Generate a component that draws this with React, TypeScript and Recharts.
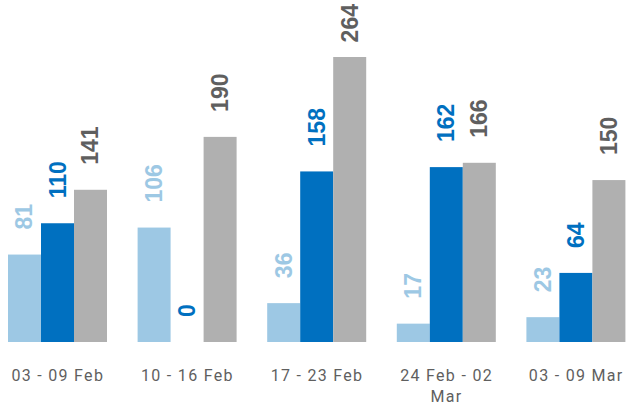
import { Bar, BarChart, XAxis, YAxis } from 'recharts';

const weeks = ['03 - 09 Feb', '10 - 16 Feb', '17 - 23 Feb', '24 Feb - 02 Mar', '03 - 09 Mar'];
const lightValues = [81, 106, 36, 17, 23];
const darkValues = [110, 0, 158, 162, 64];
const grayValues = [141, 190, 264, 166, 150];

const data = weeks.map((week, i) => ({
  week,
  light: lightValues[i],
  dark: darkValues[i],
  gray: grayValues[i],
}));

// bar + rotated value label drawn together so the zero bar still gets its label
const makeShape = (fill: string, labelColor: string, key: string) => (props: any) => {
  const { x, y, width, height, payload } = props;
  const text = String(payload[key]);
  const cx = x + width / 2;
  // keep label inside the top edge, like the original does for the tallest bar
  const cy = Math.max(y - 25, 4 + text.length * 12.8);
  return (
    <g>
      {height > 0 && <rect x={x} y={y} width={width} height={height} fill={fill} />}
      <text
        x={cx}
        y={cy}
        transform={`rotate(-90 ${cx} ${cy})`}
        textAnchor="start"
        dominantBaseline="central"
        fill={labelColor}
        fontFamily="Liberation Sans, Arial, sans-serif"
        fontWeight="bold"
        fontSize={23}
      >
        {text}
      </text>
    </g>
  );
};

const WeekTick = (props: any) => {
  const { x, y, payload } = props;
  const words = String(payload.value).split(' ');
  const lines: string[] = [];
  let cur = '';
  words.forEach((w) => {
    const next = cur ? cur + ' ' + w : w;
    if (next.length > 11 && cur) {
      lines.push(cur);
      cur = w;
    } else {
      cur = next;
    }
  });
  if (cur) lines.push(cur);
  return (
    <text
      x={x}
      y={y + 31}
      textAnchor="middle"
      fill="#5f5f5f"
      fontFamily="Roboto, sans-serif"
      fontSize={16}
      letterSpacing={1.3}
    >
      {lines.map((l, i) => (
        <tspan key={i} x={x} dy={i === 0 ? 0 : 21}>
          {l}
        </tspan>
      ))}
    </text>
  );
};

export default function App() {
  return (
    <div style={{ position: 'absolute', left: 0, top: 0, width: 628, height: 409, overflow: 'hidden' }}>
      <BarChart
        width={628}
        height={409}
        data={data}
        barCategoryGap={15}
        barGap={0}
        margin={{ top: 57, right: -13, left: -7, bottom: 0 }}
      >
        <XAxis dataKey="week" axisLine={false} tickLine={false} height={67} interval={0} tick={<WeekTick />} />
        <YAxis hide domain={[0, 264]} />
        <Bar dataKey="light" fill="#9dc8e4" isAnimationActive={false} shape={makeShape('#9dc8e4', '#9dc8e4', 'light')} />
        <Bar dataKey="dark" fill="#0070c0" isAnimationActive={false} shape={makeShape('#0070c0', '#0070c0', 'dark')} />
        <Bar dataKey="gray" fill="#b0b0b0" isAnimationActive={false} shape={makeShape('#b0b0b0', '#5f5f5f', 'gray')} />
      </BarChart>
    </div>
  );
}
